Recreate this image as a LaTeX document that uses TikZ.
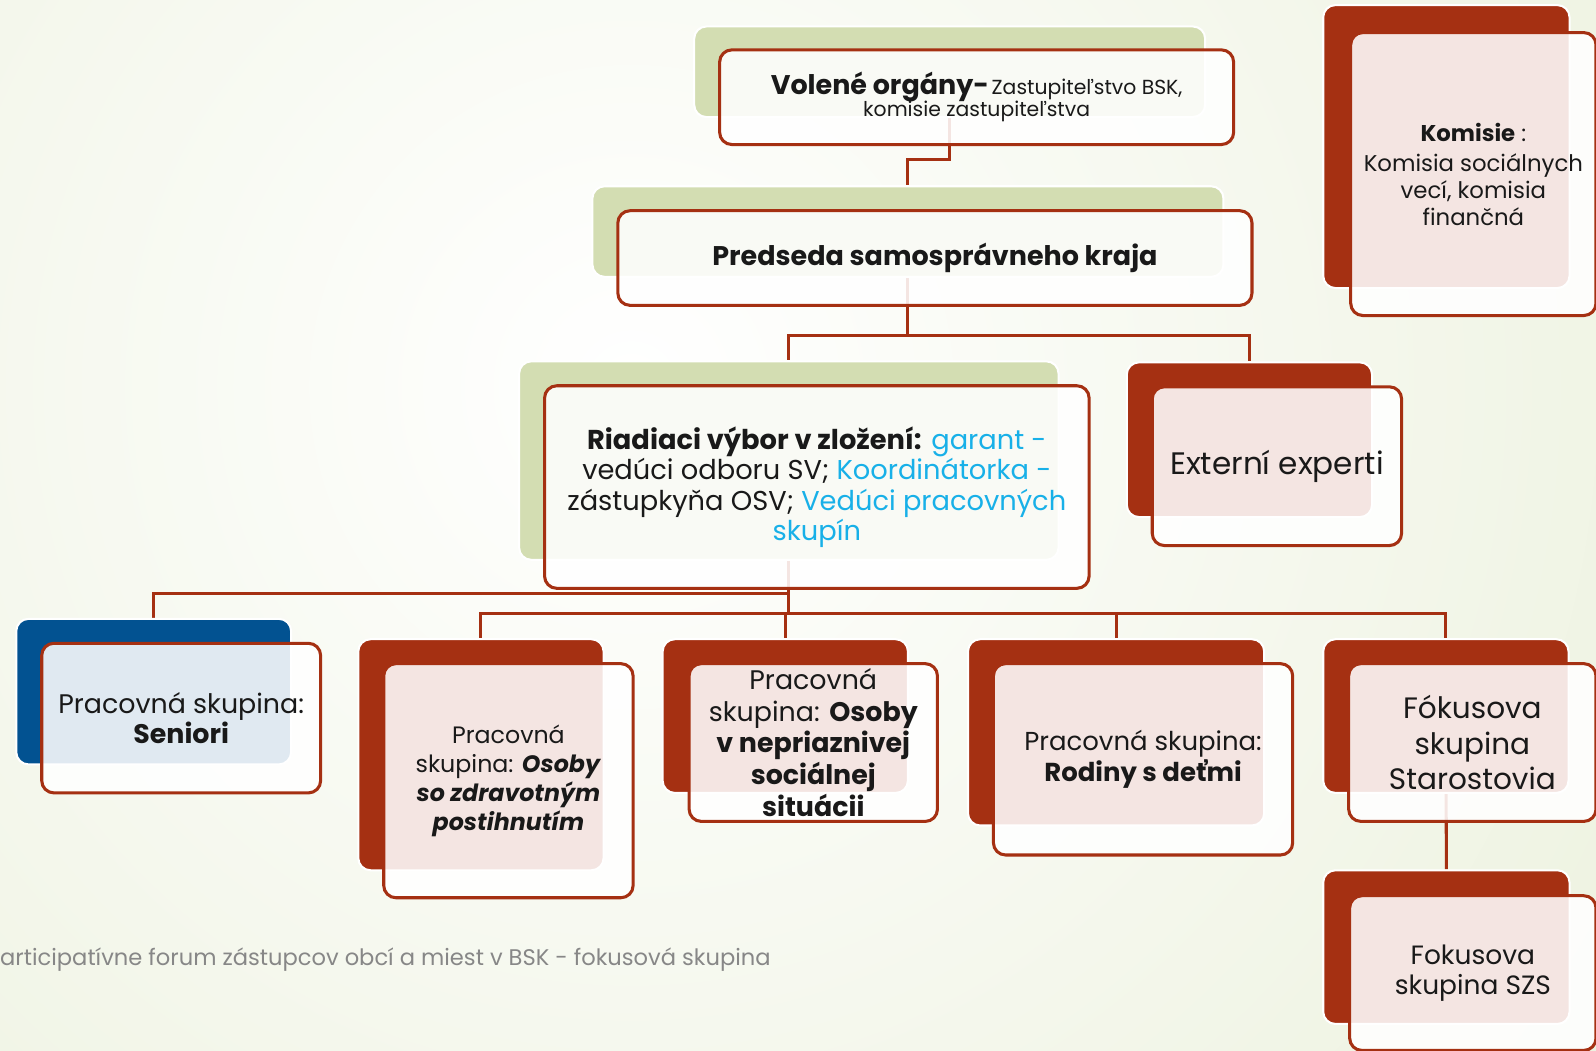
\documentclass[tikz,border=0pt]{standalone}
\usepackage{fontspec}
\setmainfont{Poppins}
\usetikzlibrary{calc}
\definecolor{dred}{RGB}{165,48,18}
\definecolor{lgreen}{RGB}{211,221,178}
\definecolor{dblue}{RGB}{2,82,145}
\definecolor{bggreen}{RGB}{226,234,204}
\definecolor{skyb}{RGB}{24,176,232}
\definecolor{footc}{RGB}{135,135,135}
\pgfdeclarelayer{bgl}\pgfdeclarelayer{lines}
\pgfsetlayers{bgl,lines,main}
\tikzset{
 backbox/.style={draw=white, line width=2pt, rounded corners=12pt, inner sep=0pt},
 greenback/.style={backbox, fill=lgreen},
 redback/.style={backbox, fill=dred},
 blueback/.style={backbox, fill=dblue},
 front/.style={draw=dred, line width=3pt, rounded corners=12pt, fill=white, fill opacity=0.88, text opacity=1, align=center, inner sep=0pt, text=black!90},
 conn/.style={draw=dred, line width=3pt},
 fs/.style n args={2}{font=\fontsize{#1}{#2}\selectfont},
}
\begin{document}
\begin{tikzpicture}[x=1pt,y=-1pt]
\useasboundingbox (0,0) rectangle (1568,1032);
\begin{pgfonlayer}{bgl}
\begin{scope}
\clip (0,0) rectangle (1568,1032);
\fill[bggreen] (0,0) rectangle (1568,1032);
\shade[inner color=white, outer color=bggreen] (620,380) circle (1900);
\end{scope}
\end{pgfonlayer}

% back boxes
\node[greenback, minimum width=502pt, minimum height=89pt] (volb) at (933,70.5) {};
\node[greenback, minimum width=620pt, minimum height=89pt] (preb) at (892,227.5) {};
\node[greenback, minimum width=530pt, minimum height=195pt] (riab) at (775,452.5) {};
\node[redback, minimum width=241pt, minimum height=152pt] (extb) at (1227.5,432) {};
\node[redback, minimum width=242pt, minimum height=278pt] (komb) at (1421,144) {};
\node[blueback, minimum width=270pt, minimum height=143pt] (senb) at (151,679.5) {};
\node[redback, minimum width=241pt, minimum height=227pt] (zdrb) at (472.5,741.5) {};
\node[redback, minimum width=241pt, minimum height=151pt] (nepb) at (771.5,703.5) {};
\node[redback, minimum width=291pt, minimum height=183pt] (rodb) at (1096.5,719.5) {};
\node[redback, minimum width=241pt, minimum height=151pt] (fokb) at (1420.5,703.5) {};
\node[redback, minimum width=242pt, minimum height=151pt] (szsb) at (1421,930.5) {};

% connectors
\coordinate (v1) at (933,157);
\coordinate (bus1) at (0,330);
\coordinate (bus2) at (0,583);
\coordinate (bus3) at (0,603);
\begin{pgfonlayer}{lines}
\draw[conn] (volb.center -| v1) -- (v1) -| (preb.north);
\draw[conn] (preb.center) -- (preb.center |- bus1) -| (riab.north);
\draw[conn] (preb.center |- bus1) -| (extb.north);
\draw[conn] (riab.center) -- (riab.center |- bus2) -| (senb.north);
\draw[conn] (riab.center |- bus2) -- (riab.center |- bus3);
\draw[conn] (zdrb.north) |- (fokb.north |- bus3) -- (fokb.north);
\draw[conn] (nepb.north) -- (nepb.north |- bus3);
\draw[conn] (rodb.north) -- (rodb.north |- bus3);
\draw[conn] (fokb.center) -- (szsb.north);
\end{pgfonlayer}

% front boxes
\node[front, minimum width=505pt, minimum height=93pt] (vol) at (959.5,95.5)
 {{\fontsize{26.5}{26}\selectfont\bfseries Volené orgány-} {\fontsize{20}{26}\selectfont Zastupiteľstvo BSK,}\\[-2pt]{\fontsize{20}{22}\selectfont komisie zastupiteľstva}};
\node[front, minimum width=623pt, minimum height=93pt, fs={26.5}{28}] (pre) at (918.5,253.5)
 {\bfseries Predseda samosprávneho kraja};
\node[front, minimum width=535pt, minimum height=199pt, fs={26.8}{30}] (ria) at (802.5,478.5)
 {\textbf{Riadiaci výbor v zložení:} \textcolor{skyb}{garant -}\\ vedúci odboru SV; \textcolor{skyb}{Koordinátorka -}\\ zástupkyňa OSV; \textcolor{skyb}{Vedúci pracovných}\\ \textcolor{skyb}{skupín}};
\node[front, minimum width=245pt, minimum height=156pt, fs={30.5}{32}] (ext) at (1254.5,458) {Externí experti};
\node[front, minimum width=241pt, minimum height=278pt, fs={22.4}{26.5}] (kom) at (1447.5,171)
 {\textbf{Komisie} :\\[3pt] Komisia sociálnych\\ vecí, komisia\\ finančná};
\node[front, minimum width=274pt, minimum height=147pt, fs={26.4}{30}] (sen) at (178,705.5)
 {Pracovná skupina:\\ \textbf{Seniori}};
\node[front, minimum width=245pt, minimum height=230pt, fs={23.3}{28.5}] (zdr) at (499.5,767)
 {Pracovná\\ skupina: \textbf{\itshape Osoby}\\ \textbf{\itshape so zdravotným}\\ \textbf{\itshape postihnutím}};
\node[front, minimum width=244pt, minimum height=155pt, fs={26.4}{31}] (nep) at (799,729.5)
 {Pracovná\\ skupina: \textbf{Osoby}\\ \textbf{v nepriaznivej}\\ \textbf{sociálnej}\\ \textbf{situácii}};
\node[front, minimum width=294pt, minimum height=188pt, fs={25.5}{30}] (rod) at (1123,746)
 {Pracovná skupina:\\ \textbf{Rodiny s deťmi}};
\node[front, minimum width=243pt, minimum height=155pt, fs={29}{34.5}] (fok) at (1446.5,729.5)
 {Fókusova\\ skupina\\ Starostovia};
\node[front, minimum width=242pt, minimum height=152pt, fs={26}{30}] (szs) at (1447,956)
 {Fokusova\\ skupina SZS};

\node[anchor=west, inner sep=0pt, text=footc, fs={22.2}{24}] (foot) at (0,943)
 {articipatívne forum zástupcov obcí a miest v BSK - fokusová skupina};
\end{tikzpicture}
\end{document}
